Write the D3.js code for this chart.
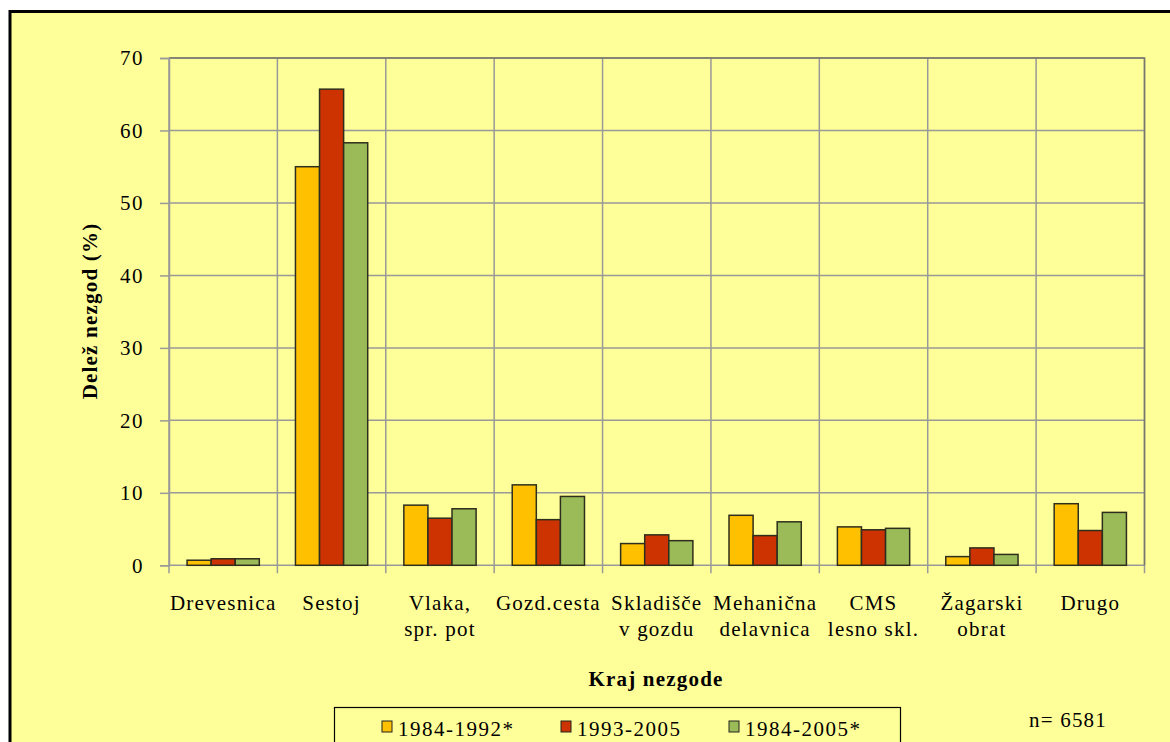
<!DOCTYPE html>
<html>
<head>
<meta charset="utf-8">
<script src="https://cdn.jsdelivr.net/npm/d3@7"></script>
<style>
  html, body { margin: 0; padding: 0; background: #ffffff; }
  svg { display: block; }
  text { font-family: "Liberation Serif", "Times New Roman", serif; fill: #000; }
</style>
</head>
<body>
<svg id="chart" width="1170" height="742"></svg>
<script>
const categories = [
  ["Drevesnica"],
  ["Sestoj"],
  ["Vlaka,", "spr. pot"],
  ["Gozd.cesta"],
  ["Skladišče", "v gozdu"],
  ["Mehanična", "delavnica"],
  ["CMS", "lesno skl."],
  ["Žagarski", "obrat"],
  ["Drugo"]
];
const seriesNames = ["1984-1992*", "1993-2005", "1984-2005*"];
const s1984_1992 = [0.7, 55.0, 8.3, 11.1, 3.0, 6.9, 5.3, 1.2, 8.5];
const s1993_2005 = [0.9, 65.7, 6.5, 6.3, 4.2, 4.1, 4.9, 2.4, 4.8];
const s1984_2005 = [0.9, 58.3, 7.8, 9.5, 3.4, 6.0, 5.1, 1.5, 7.3];
const seriesColors = ["#FFC000", "#CC3300", "#9BBB59"];
const yTicks = [0, 10, 20, 30, 40, 50, 60, 70];
const yTitle = "Delež nezgod (%)";
const xTitle = "Kraj nezgode";
const note = "n= 6581";

const series = [s1984_1992, s1993_2005, s1984_2005];
const svg = d3.select("#chart");

// outer frame
svg.append("rect").attr("x", 10).attr("y", 11.5).attr("width", 1200).attr("height", 800)
  .attr("fill", "#FFFF99").attr("stroke", "#000").attr("stroke-width", 3);

const plot = { left: 169, right: 1144.5, top: 58, bottom: 565.3 };

const x = d3.scaleBand().domain(d3.range(categories.length))
  .range([plot.left, plot.right]).paddingInner(0).paddingOuter(0);
const xs = d3.scaleBand().domain(d3.range(series.length))
  .range([0, x.bandwidth()]).paddingInner(0).paddingOuter(0.75);
const y = d3.scaleLinear().domain([0, 70]).range([plot.bottom, plot.top]);

// horizontal gridlines
svg.append("g").selectAll("line").data(yTicks).join("line")
  .attr("x1", plot.left).attr("x2", plot.right)
  .attr("y1", d => y(d)).attr("y2", d => y(d))
  .attr("stroke", "#999999").attr("stroke-width", 1.5);

// vertical gridlines at category boundaries
const bounds = d3.range(categories.length + 1).map(i => i < categories.length ? x(i) : x(categories.length - 1) + x.bandwidth());
svg.append("g").selectAll("line").data(bounds).join("line")
  .attr("x1", d => d).attr("x2", d => d)
  .attr("y1", plot.top).attr("y2", plot.bottom + 8)
  .attr("stroke", "#999999").attr("stroke-width", 1.5);

// plot border top/right darker
svg.append("path")
  .attr("d", `M${plot.left},${plot.top}H${plot.right}V${plot.bottom}`)
  .attr("fill", "none").attr("stroke", "#77776a").attr("stroke-width", 1.5);

// y axis
const yAxis = d3.axisLeft(y).tickValues(yTicks).tickSize(9).tickPadding(16).tickFormat(d3.format("d"));
const ya = svg.append("g").attr("transform", `translate(${plot.left},0)`).call(yAxis);
ya.select(".domain").attr("stroke", "#999999").attr("stroke-width", 1.5);
ya.selectAll(".tick line").attr("stroke", "#999999").attr("stroke-width", 1.5);
ya.selectAll(".tick text").attr("font-size", 21).attr("letter-spacing", "1.5px")
  .attr("font-family", "Liberation Serif").attr("fill", "#000");

// bars
const groups = svg.append("g").selectAll("g").data(categories).join("g")
  .attr("transform", (d, i) => `translate(${x(i)},0)`);
groups.selectAll("rect").data((d, i) => series.map((s, k) => ({ k, v: s[i] }))).join("rect")
  .attr("x", d => xs(d.k)).attr("width", xs.bandwidth())
  .attr("y", d => y(d.v)).attr("height", d => y(0) - y(d.v))
  .attr("fill", d => seriesColors[d.k])
  .attr("stroke", "#2e2e1e").attr("stroke-width", 1.5);

// x category labels
const xl = svg.append("g").selectAll("text").data(categories).join("text")
  .attr("x", (d, i) => x(i) + x.bandwidth() / 2)
  .attr("y", 610)
  .attr("text-anchor", "middle")
  .attr("font-size", 21).attr("letter-spacing", "1.2px");
xl.selectAll("tspan").data(d => d).join("tspan")
  .attr("x", function () { return d3.select(this.parentNode).attr("x"); })
  .attr("dy", (d, j) => j === 0 ? 0 : 26)
  .text(d => d);

// axis titles
svg.append("text").attr("x", 656).attr("y", 686).attr("text-anchor", "middle")
  .attr("font-size", 21).attr("font-weight", "bold").attr("letter-spacing", "1.2px").text(xTitle);
svg.append("text").attr("transform", "translate(97,311) rotate(-90)").attr("text-anchor", "middle")
  .attr("font-size", 21).attr("font-weight", "bold").attr("letter-spacing", "1.2px").text(yTitle);

// legend
svg.append("rect").attr("x", 334.5).attr("y", 707.5).attr("width", 566).attr("height", 60)
  .attr("fill", "#FFFF99").attr("stroke", "#000").attr("stroke-width", 1.2);
const legX = [382, 561, 729];
const lg = svg.append("g").selectAll("g").data(seriesNames).join("g")
  .attr("transform", (d, i) => `translate(${legX[i]},0)`);
lg.append("rect").attr("x", 0).attr("y", 721).attr("width", 10).attr("height", 11)
  .attr("fill", (d, i) => seriesColors[i]).attr("stroke", "#222").attr("stroke-width", 1);
lg.append("text").attr("x", 16).attr("y", 736).attr("font-size", 21).attr("letter-spacing", "1.5px").text(d => d);

svg.append("text").attr("x", 1029).attr("y", 727).attr("font-size", 21).attr("letter-spacing", "1.2px").text(note);
</script>
</body>
</html>
